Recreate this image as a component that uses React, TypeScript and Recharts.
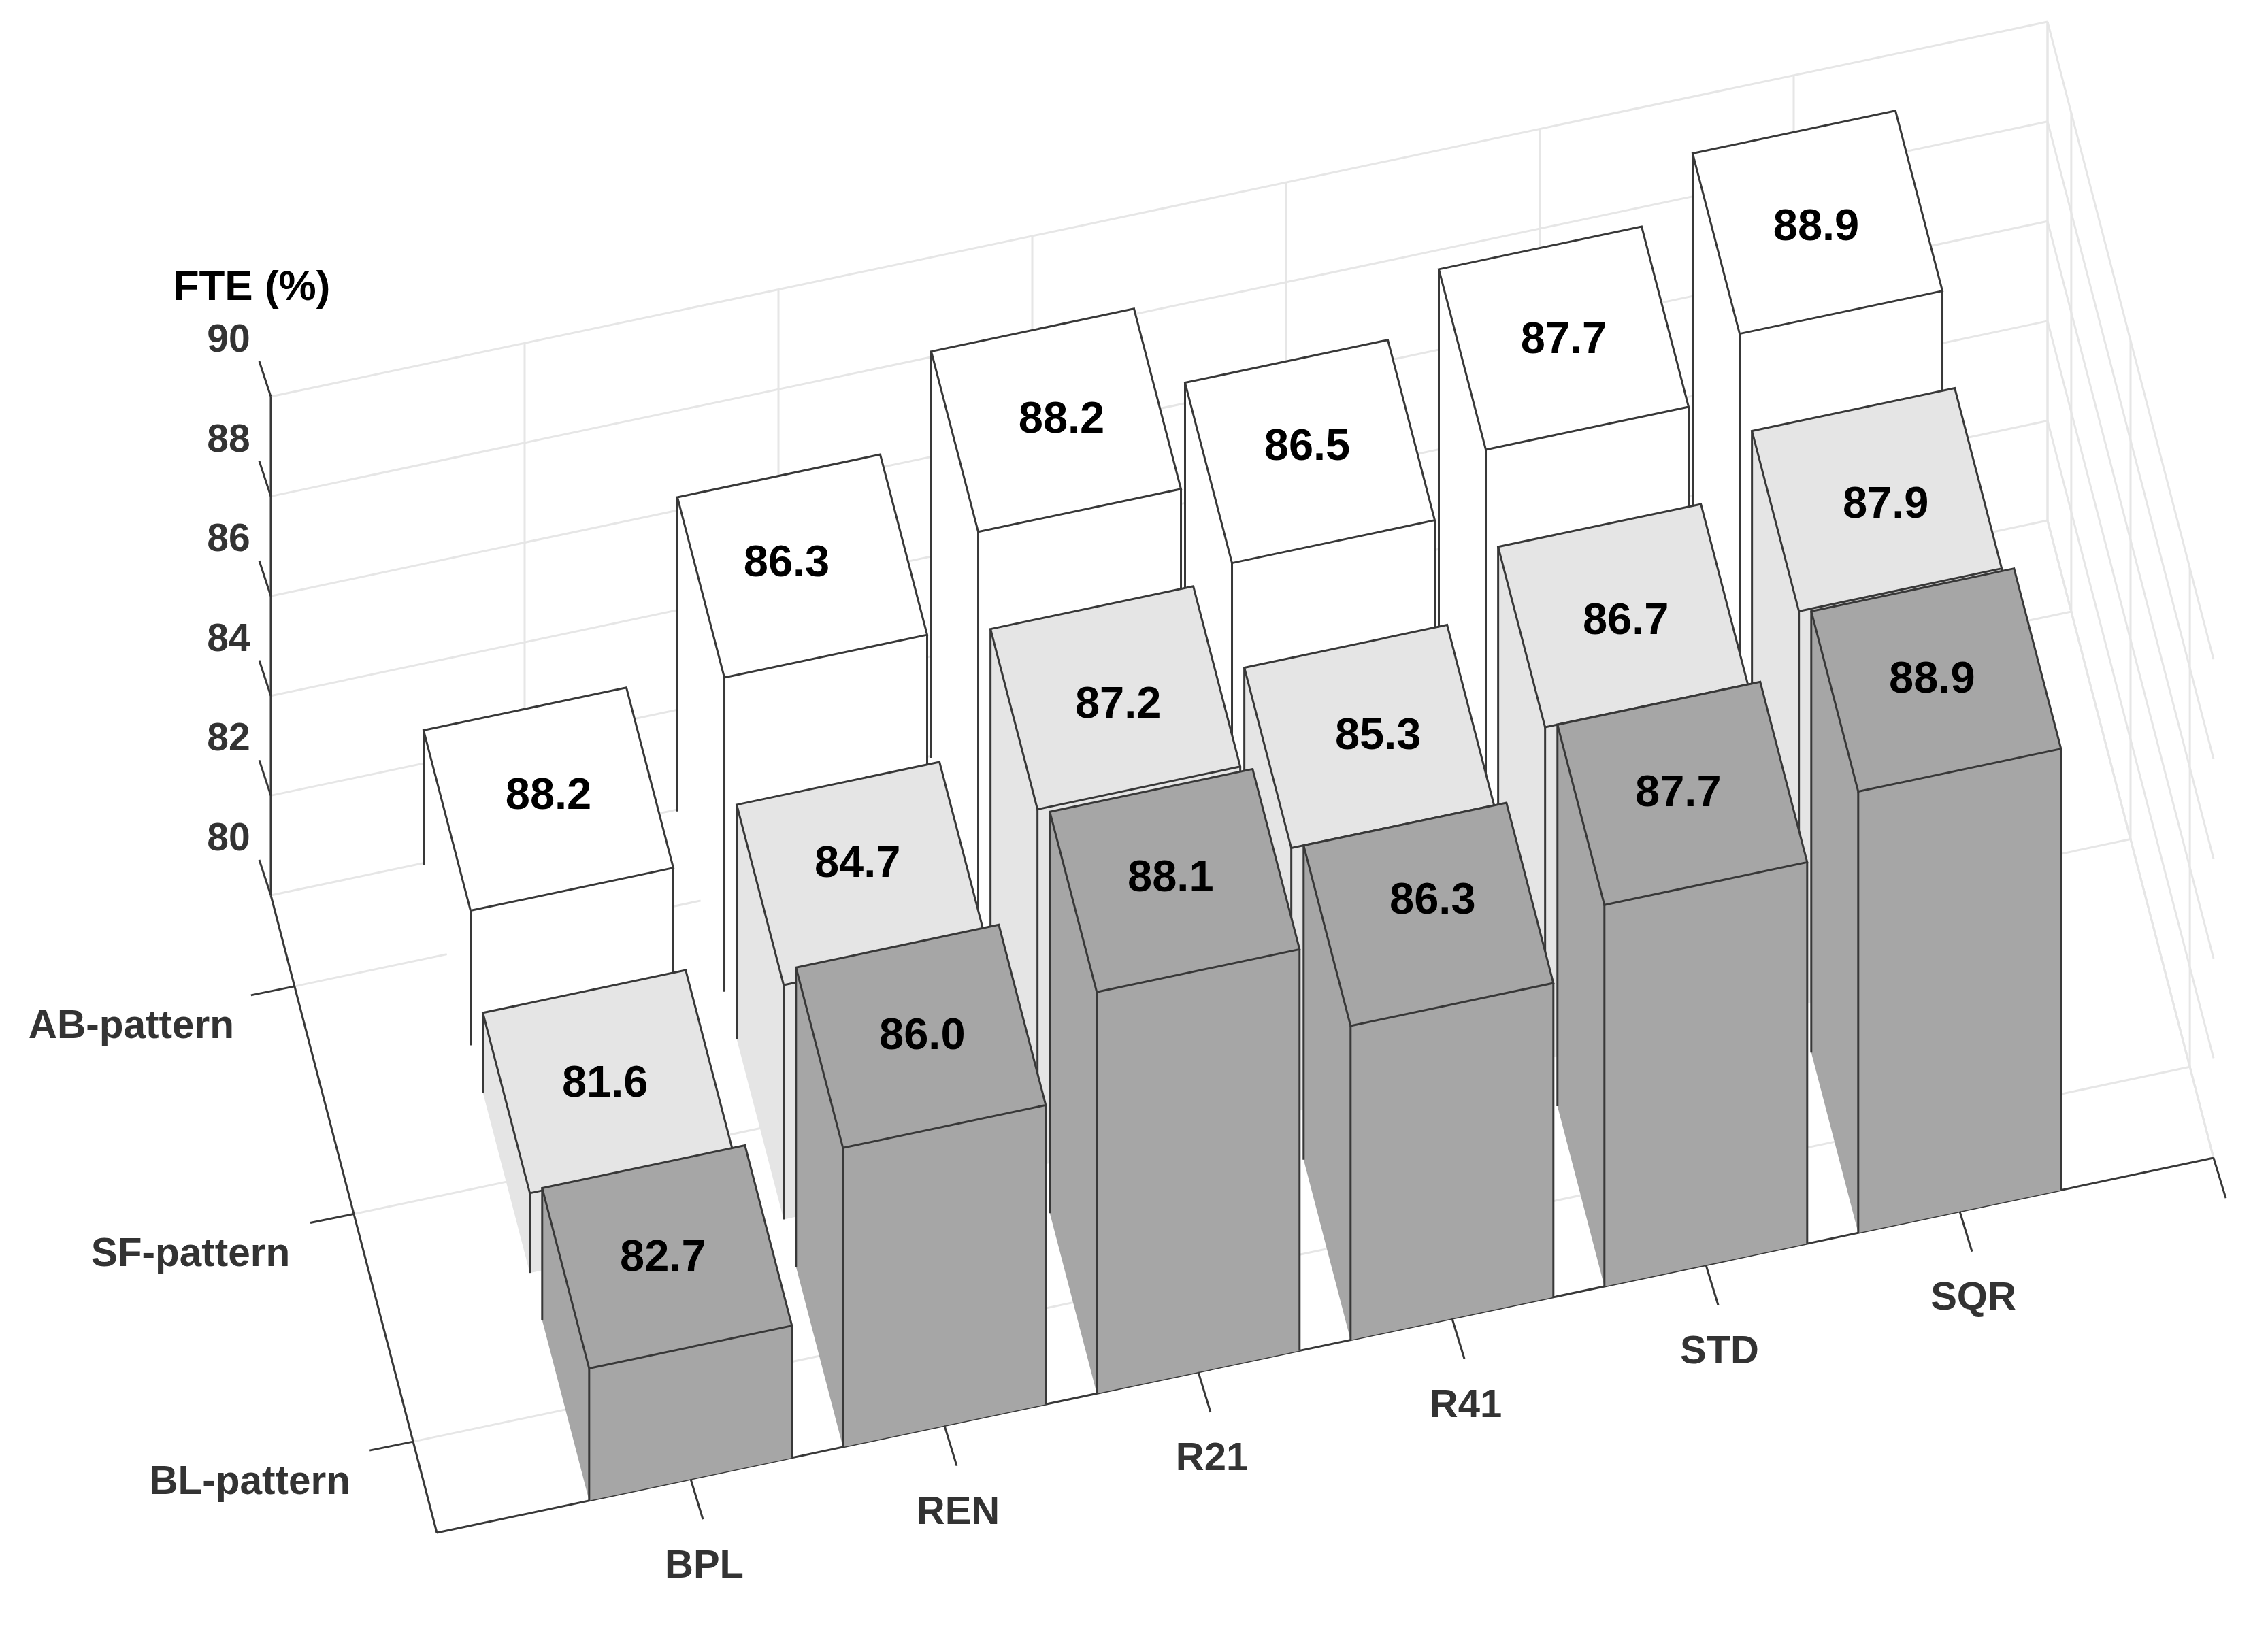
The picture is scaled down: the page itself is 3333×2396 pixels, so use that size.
import { BarChart, Bar, XAxis, YAxis, CartesianGrid, Customized } from 'recharts';

const categories = ['BPL', 'REN', 'R21', 'R41', 'STD', 'SQR'];
const patterns = ['AB-pattern', 'SF-pattern', 'BL-pattern'];
const zTicks = [80, 82, 84, 86, 88, 90];

// drawn heights; the first AB bar is drawn much lower than its printed label
const abValues = [82.7, 86.3, 88.15, 86.45, 87.65, 88.9];
const sfValues = [81.6, 84.7, 87.15, 85.3, 86.65, 87.9];
const blValues = [82.65, 86.0, 88.05, 86.3, 87.65, 88.85];

const abLabels = ['88.2', '86.3', '88.2', '86.5', '87.7', '88.9'];
const sfLabels = ['81.6', '84.7', '87.2', '85.3', '86.7', '87.9'];
const blLabels = ['82.7', '86.0', '88.1', '86.3', '87.7', '88.9'];

// the printed numbers do not sit exactly mid-face, page pixel nudges
const abNudge = [[0, -4], [-23, -4], [8, 0], [-4, -6], [0, 4], [-2, 8]];
const sfNudge = [[-4, 4], [-6, -13], [4, 11], [13, 0], [4, 9], [13, 8]];
const blNudge = [[-6, 2], [2, 0], [-6, -3], [6, -19], [-6, 0], [-6, 0]];

const data = categories.map((cat, i) => ({ cat, ab: abValues[i], sf: sfValues[i], bl: blValues[i] }));

// back wall of the box in page pixels
const LEFT = 398;
const RIGHT = 3009;
const TOP = 583;
const BOTTOM = 1316;
const BAND = (RIGHT - LEFT) / 7;

// oblique view: x axis climbs, depth axis runs down and right
const SLOPE = -0.211;
const DEPTH_X = 244;
const DEPTH_Y = 937;
const V_MIN = 0.6;
const V_MAX = 3.4;

const EDGE = '#383838';
const GRID = '#e6e6e6';
const FONT = '"Liberation Sans", Arial, sans-serif';

function project(px: number, py: number, v: number) {
  const t = (v - V_MIN) / (V_MAX - V_MIN);
  return { x: px + t * DEPTH_X, y: py + (px - LEFT) * SLOPE + t * DEPTH_Y };
}

const pts = (list: { x: number; y: number }[]) => list.map(p => `${p.x},${p.y}`).join(' ');

function Edge({ a, b, color = EDGE, w = 3 }: any) {
  return <line x1={a.x} y1={a.y} x2={b.x} y2={b.y} stroke={color} strokeWidth={w} />;
}

function makeBarShape(v: number, fill: string, labels: string[], nudge: number[][]) {
  return function BarShape(props: any) {
    const { x, y, width, height, index } = props;
    const floor = y + height;
    const back = v - 0.392;
    const front = v + 0.4;
    const tbl = project(x, y, back);
    const tbr = project(x + width, y, back);
    const tfl = project(x, y, front);
    const tfr = project(x + width, y, front);
    const bbl = project(x, floor, back);
    const bfl = project(x, floor, front);
    const bfr = project(x + width, floor, front);
    const cx = (tbl.x + tbr.x + tfl.x + tfr.x) / 4;
    const cy = (tbl.y + tbr.y + tfl.y + tfr.y) / 4;
    return (
      <g>
        <polygon points={pts([tbl, tfl, bfl, bbl])} fill={fill} />
        <polygon points={pts([tfl, tfr, bfr, bfl])} fill={fill} />
        <polygon points={pts([tbl, tbr, tfr, tfl])} fill={fill} />
        <Edge a={tbl} b={bbl} />
        <Edge a={tfl} b={bfl} />
        <Edge a={tfr} b={bfr} />
        <polygon points={pts([tbl, tbr, tfr, tfl])} fill="none" stroke={EDGE} strokeWidth={3} />
        <text x={cx + nudge[index][0]} y={cy - 4 + nudge[index][1]} textAnchor="middle" dominantBaseline="central" fontFamily={FONT} fontWeight="bold" fontSize={65} fill="#000">
          {labels[index]}
        </text>
      </g>
    );
  };
}

function gridVertical(props: any) {
  const { x1 } = props;
  return (
    <g key={`v-${x1}`}>
      <Edge a={project(x1, TOP, V_MIN)} b={project(x1, BOTTOM, V_MIN)} color={GRID} />
      <Edge a={project(x1, BOTTOM, V_MIN)} b={project(x1, BOTTOM, V_MAX)} color={GRID} />
    </g>
  );
}

function gridHorizontal(props: any) {
  const { y1 } = props;
  return (
    <g key={`h-${y1}`}>
      <Edge a={project(LEFT, y1, V_MIN)} b={project(RIGHT, y1, V_MIN)} color={GRID} />
      <Edge a={project(RIGHT, y1, V_MIN)} b={project(RIGHT, y1, V_MAX)} color={GRID} />
    </g>
  );
}

// floor and right wall lines plus the box edges and depth labels, which no axis gives here
function BoxFrame() {
  return (
    <g>
      <Edge a={project(RIGHT, TOP, V_MIN)} b={project(RIGHT, BOTTOM, V_MIN)} color={GRID} />
      {patterns.map((name, i) => {
        const v = i + 1;
        return (
          <g key={name}>
            <Edge a={project(LEFT, BOTTOM, v)} b={project(RIGHT, BOTTOM, v)} color={GRID} />
            <Edge a={project(RIGHT, BOTTOM, v)} b={project(RIGHT, TOP, v)} color={GRID} />
          </g>
        );
      })}
    </g>
  );
}

function BoxFront() {
  const corner = project(RIGHT, BOTTOM, V_MAX);
  return (
    <g>
      <Edge a={project(LEFT, TOP, V_MIN)} b={project(LEFT, BOTTOM, V_MIN)} />
      <Edge a={project(LEFT, BOTTOM, V_MIN)} b={project(LEFT, BOTTOM, V_MAX)} />
      <Edge a={project(LEFT, BOTTOM, V_MAX)} b={corner} />
      <Edge a={corner} b={{ x: corner.x + 18, y: corner.y + 59 }} />
      {patterns.map((name, i) => {
        const p = project(LEFT, BOTTOM, i + 1);
        return (
          <g key={name}>
            <Edge a={p} b={{ x: p.x - 64, y: p.y + 13 }} />
            <text x={p.x - 240} y={p.y + 56} textAnchor="middle" dominantBaseline="central" fontFamily={FONT} fontWeight="bold" fontSize={58.5} fill="#333">
              {name}
            </text>
          </g>
        );
      })}
      <text x={370} y={419} textAnchor="middle" dominantBaseline="central" fontFamily={FONT} fontWeight="bold" fontSize={62} fill="#000">
        FTE (%)
      </text>
    </g>
  );
}

function CategoryTick(props: any) {
  const { x, payload } = props;
  const p = project(x, BOTTOM, V_MAX);
  return (
    <g>
      <Edge a={p} b={{ x: p.x + 18, y: p.y + 59 }} />
      <text x={p.x + 20} y={p.y + 124} textAnchor="middle" dominantBaseline="central" fontFamily={FONT} fontWeight="bold" fontSize={58} fill="#333">
        {payload.value}
      </text>
    </g>
  );
}

function ValueTick(props: any) {
  const { y, payload } = props;
  return (
    <g>
      <line x1={LEFT} y1={y} x2={LEFT - 17} y2={y - 52} stroke={EDGE} strokeWidth={3} />
      <text x={LEFT - 62} y={y - 86} textAnchor="middle" dominantBaseline="central" fontFamily={FONT} fontWeight="bold" fontSize={57} fill="#333">
        {payload.value}
      </text>
    </g>
  );
}

export default function App() {
  const pad = BAND / 2;
  return (
    <div style={{ position: 'absolute', left: 0, top: 0, width: 3333, height: 2396, background: '#fff' }}>
      <BarChart
        width={3333}
        height={2396}
        data={data}
        barCategoryGap="10%"
        margin={{ left: LEFT - 1, right: 3333 - RIGHT, top: TOP, bottom: 2396 - BOTTOM - 1 }}
      >
        <CartesianGrid xAxisId="ab" vertical={gridVertical} horizontal={gridHorizontal} />
        <Customized component={<BoxFrame />} />
        <XAxis xAxisId="ab" dataKey="cat" interval={0} height={1} axisLine={false} tickLine={false} padding={{ left: pad, right: pad }} tick={CategoryTick} />
        <XAxis xAxisId="sf" dataKey="cat" hide padding={{ left: pad, right: pad }} />
        <XAxis xAxisId="bl" dataKey="cat" hide padding={{ left: pad, right: pad }} />
        <YAxis domain={[80, 90]} ticks={zTicks} interval={0} width={1} axisLine={false} tickLine={false} tick={ValueTick} />
        <Bar xAxisId="ab" dataKey="ab" isAnimationActive={false} shape={makeBarShape(1, '#ffffff', abLabels, abNudge)} />
        <Bar xAxisId="sf" dataKey="sf" isAnimationActive={false} shape={makeBarShape(2, '#e5e5e5', sfLabels, sfNudge)} />
        <Bar xAxisId="bl" dataKey="bl" isAnimationActive={false} shape={makeBarShape(3, '#a6a6a6', blLabels, blNudge)} />
        <Customized component={<BoxFront />} />
      </BarChart>
    </div>
  );
}
